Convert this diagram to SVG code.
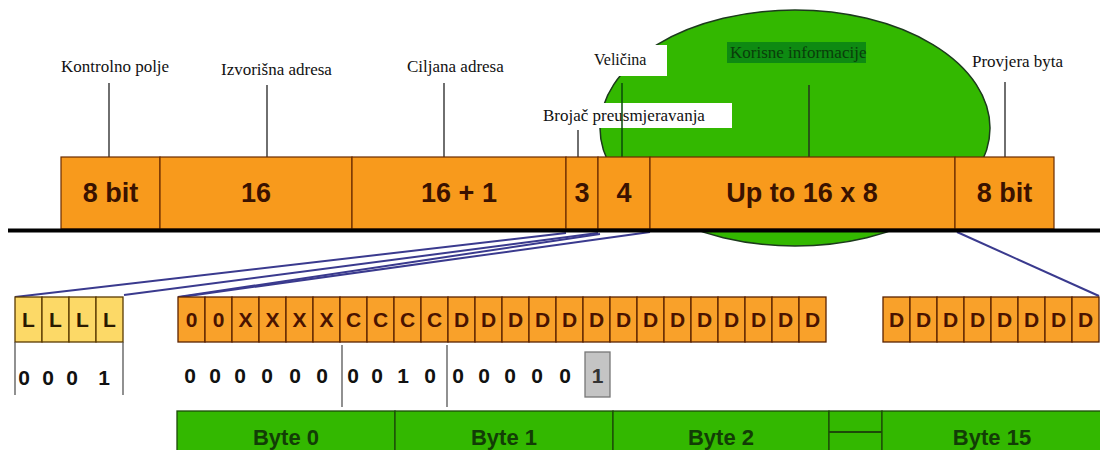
<svg xmlns="http://www.w3.org/2000/svg" width="1100" height="450" viewBox="0 0 1100 450">
<style>
.lbl{font-family:"Liberation Serif","Times New Roman",serif;font-size:17px;fill:#111}
.bar{fill:#f89a1c;stroke:#6a2c00;stroke-width:1.2}
.bt{font-family:"Liberation Sans",Arial,sans-serif;font-weight:bold;font-size:27px;fill:#3a1200;text-anchor:middle}
.cell{fill:#f9a12a;stroke:#5a2200;stroke-width:1.3}
.lcell{fill:#fcd967;stroke:#5a3a00;stroke-width:1.3}
.ct{font-family:"Liberation Sans",Arial,sans-serif;font-weight:bold;font-size:21px;fill:#4a1300;text-anchor:middle}
.dg{font-family:"Liberation Sans",Arial,sans-serif;font-weight:bold;font-size:21px;fill:#111;text-anchor:middle}
.gr{fill:#33b800;stroke:#1c4a08;stroke-width:1.3}
.gt{font-family:"Liberation Sans",Arial,sans-serif;font-weight:bold;font-size:22px;fill:#123d06;text-anchor:middle}
.lead{stroke:#222;stroke-width:1.3}
.blue{stroke:#3a3a8e;stroke-width:2;fill:none}
.sep{stroke:#555;stroke-width:1.3}
</style>
<rect width="1100" height="450" fill="#ffffff"/>
<g id="payload-ellipse">
<ellipse cx="795" cy="128" rx="195" ry="118" fill="#33b800" stroke="#1c3a1c" stroke-width="1.5"/>
</g>
<g id="label-velicina">
<rect x="585" y="45" width="82" height="31" fill="#ffffff"/>
<text class="lbl" x="594" y="65" style="font-size:16px">Veličina</text>
</g>
<g id="label-brojac">
<rect x="538" y="103" width="194" height="25" fill="#ffffff"/>
<text class="lbl" x="543" y="121">Brojač preusmjeravanja</text>
</g>
<g id="label-korisne">
<rect x="727" y="42" width="139" height="21" fill="#0e8a12"/>
<text class="lbl" x="730" y="58" style="fill:#0a3d0a">Korisne informacije</text>
</g>
<g id="label-kontrolno"><text class="lbl" x="61" y="72">Kontrolno polje</text></g>
<g id="label-izvorisna"><text class="lbl" x="221" y="75">Izvorišna adresa</text></g>
<g id="label-ciljana"><text class="lbl" x="407" y="72">Ciljana adresa</text></g>
<g id="label-provjera"><text class="lbl" x="972" y="67">Provjera byta</text></g>
<g id="connectors">
<line class="lead" x1="109" y1="83" x2="109" y2="157"/>
<line class="lead" x1="267" y1="85" x2="267" y2="157"/>
<line class="lead" x1="444" y1="83" x2="444" y2="157"/>
<line class="lead" x1="578" y1="130" x2="578" y2="157"/>
<line x1="622" y1="83" x2="622" y2="157" stroke="#0a4a0a" stroke-width="1.5"/>
<line class="lead" x1="809" y1="85" x2="809" y2="157"/>
<line class="lead" x1="1005" y1="82" x2="1005" y2="157"/>
<line class="blue" x1="566" y1="233" x2="15" y2="297"/>
<line class="blue" x1="598" y1="233" x2="124" y2="295"/>
<line class="blue" x1="600" y1="234" x2="178" y2="297"/>
<line class="blue" x1="650" y1="232" x2="181" y2="297"/>
<line class="blue" x1="957" y1="232" x2="1099" y2="296"/>
</g>
<g id="frame-bar">
<rect class="bar" x="61" y="157" width="99" height="72"/>
<rect class="bar" x="160" y="157" width="192" height="72"/>
<rect class="bar" x="352" y="157" width="214" height="72"/>
<rect class="bar" x="566" y="157" width="32" height="72"/>
<rect class="bar" x="598" y="157" width="52" height="72"/>
<rect class="bar" x="650" y="157" width="305" height="72"/>
<rect class="bar" x="955" y="157" width="99" height="72"/>
<text class="bt" x="110.5" y="202">8 bit</text>
<text class="bt" x="256" y="202">16</text>
<text class="bt" x="459" y="202">16 + 1</text>
<text class="bt" x="582" y="202">3</text>
<text class="bt" x="624" y="202">4</text>
<text class="bt" x="802" y="202">Up to 16 x 8</text>
<text class="bt" x="1004.5" y="202">8 bit</text>
</g>
<g id="baseline"><line x1="8" y1="230.5" x2="1100" y2="230.5" stroke="#000" stroke-width="4"/></g>
<g id="size-bits">
<rect class="lcell" x="15" y="297" width="27" height="45"/>
<rect class="lcell" x="42" y="297" width="27" height="45"/>
<rect class="lcell" x="69" y="297" width="27" height="45"/>
<rect class="lcell" x="96" y="297" width="27" height="45"/>
<text class="ct" x="28.5" y="327" style="fill:#2a1a00">L</text>
<text class="ct" x="55.5" y="327" style="fill:#2a1a00">L</text>
<text class="ct" x="82.5" y="327" style="fill:#2a1a00">L</text>
<text class="ct" x="109.5" y="327" style="fill:#2a1a00">L</text>
<line class="sep" x1="15" y1="342" x2="15" y2="395"/>
<line class="sep" x1="123" y1="342" x2="123" y2="395"/>
<text class="dg" x="24" y="385">0</text>
<text class="dg" x="48" y="385">0</text>
<text class="dg" x="72" y="385">0</text>
<text class="dg" x="104" y="385">1</text>
</g>
<g id="payload-bits">
<rect class="cell" x="178" y="297" width="27" height="45"/><rect class="cell" x="205" y="297" width="27" height="45"/>
<rect class="cell" x="232" y="297" width="27" height="45"/><rect class="cell" x="259" y="297" width="27" height="45"/>
<rect class="cell" x="286" y="297" width="27" height="45"/><rect class="cell" x="313" y="297" width="27" height="45"/>
<rect class="cell" x="340" y="297" width="27" height="45"/><rect class="cell" x="367" y="297" width="27" height="45"/>
<rect class="cell" x="394" y="297" width="27" height="45"/><rect class="cell" x="421" y="297" width="27" height="45"/>
<rect class="cell" x="448" y="297" width="27" height="45"/><rect class="cell" x="475" y="297" width="27" height="45"/>
<rect class="cell" x="502" y="297" width="27" height="45"/><rect class="cell" x="529" y="297" width="27" height="45"/>
<rect class="cell" x="556" y="297" width="27" height="45"/><rect class="cell" x="583" y="297" width="27" height="45"/>
<rect class="cell" x="610" y="297" width="27" height="45"/><rect class="cell" x="637" y="297" width="27" height="45"/>
<rect class="cell" x="664" y="297" width="27" height="45"/><rect class="cell" x="691" y="297" width="27" height="45"/>
<rect class="cell" x="718" y="297" width="27" height="45"/><rect class="cell" x="745" y="297" width="27" height="45"/>
<rect class="cell" x="772" y="297" width="27" height="45"/><rect class="cell" x="799" y="297" width="27" height="45"/>
<text class="ct" x="191.5" y="327">0</text><text class="ct" x="218.5" y="327">0</text>
<text class="ct" x="245.5" y="327">X</text><text class="ct" x="272.5" y="327">X</text>
<text class="ct" x="299.5" y="327">X</text><text class="ct" x="326.5" y="327">X</text>
<text class="ct" x="353.5" y="327">C</text><text class="ct" x="380.5" y="327">C</text>
<text class="ct" x="407.5" y="327">C</text><text class="ct" x="434.5" y="327">C</text>
<text class="ct" x="461.5" y="327">D</text><text class="ct" x="488.5" y="327">D</text>
<text class="ct" x="515.5" y="327">D</text><text class="ct" x="542.5" y="327">D</text>
<text class="ct" x="569.5" y="327">D</text><text class="ct" x="596.5" y="327">D</text>
<text class="ct" x="623.5" y="327">D</text><text class="ct" x="650.5" y="327">D</text>
<text class="ct" x="677.5" y="327">D</text><text class="ct" x="704.5" y="327">D</text>
<text class="ct" x="731.5" y="327">D</text><text class="ct" x="758.5" y="327">D</text>
<text class="ct" x="785.5" y="327">D</text><text class="ct" x="812.5" y="327">D</text>
</g>
<g id="payload-bits-end">
<rect class="cell" x="883" y="297" width="27" height="45"/><rect class="cell" x="910" y="297" width="27" height="45"/>
<rect class="cell" x="937" y="297" width="27" height="45"/><rect class="cell" x="964" y="297" width="27" height="45"/>
<rect class="cell" x="991" y="297" width="27" height="45"/><rect class="cell" x="1018" y="297" width="27" height="45"/>
<rect class="cell" x="1045" y="297" width="27" height="45"/><rect class="cell" x="1072" y="297" width="27" height="45"/>
<text class="ct" x="896.5" y="327">D</text><text class="ct" x="923.5" y="327">D</text>
<text class="ct" x="950.5" y="327">D</text><text class="ct" x="977.5" y="327">D</text>
<text class="ct" x="1004.5" y="327">D</text><text class="ct" x="1031.5" y="327">D</text>
<text class="ct" x="1058.5" y="327">D</text><text class="ct" x="1085.5" y="327">D</text>
</g>
<g id="bit-values">
<line class="sep" x1="342" y1="345" x2="342" y2="407"/>
<line class="sep" x1="447" y1="345" x2="447" y2="407"/>
<text class="dg" x="190" y="383">0</text><text class="dg" x="215" y="383">0</text>
<text class="dg" x="240" y="383">0</text><text class="dg" x="267" y="383">0</text>
<text class="dg" x="295" y="383">0</text><text class="dg" x="322" y="383">0</text>
<text class="dg" x="353" y="383">0</text><text class="dg" x="377" y="383">0</text>
<text class="dg" x="403" y="383">1</text><text class="dg" x="430" y="383">0</text>
<text class="dg" x="458" y="383">0</text><text class="dg" x="484" y="383">0</text>
<text class="dg" x="510" y="383">0</text><text class="dg" x="537" y="383">0</text>
<text class="dg" x="565" y="383">0</text>
<rect x="585" y="352" width="25" height="45" fill="#c4c4c4" stroke="#777" stroke-width="1.3"/>
<text class="dg" x="597.5" y="383" style="fill:#333">1</text>
</g>
<g id="byte-row">
<rect class="gr" x="177" y="411" width="218" height="45"/>
<rect class="gr" x="395" y="411" width="218" height="45"/>
<rect class="gr" x="613" y="411" width="216" height="45"/>
<rect class="gr" x="829" y="411" width="53" height="45"/>
<rect class="gr" x="882" y="411" width="220" height="45"/>
<line x1="829" y1="432" x2="882" y2="432" stroke="#1c4a08" stroke-width="2"/>
<text class="gt" x="286" y="445">Byte 0</text>
<text class="gt" x="504" y="445">Byte 1</text>
<text class="gt" x="721" y="445">Byte 2</text>
<text class="gt" x="992" y="445">Byte 15</text>
</g>
</svg>
